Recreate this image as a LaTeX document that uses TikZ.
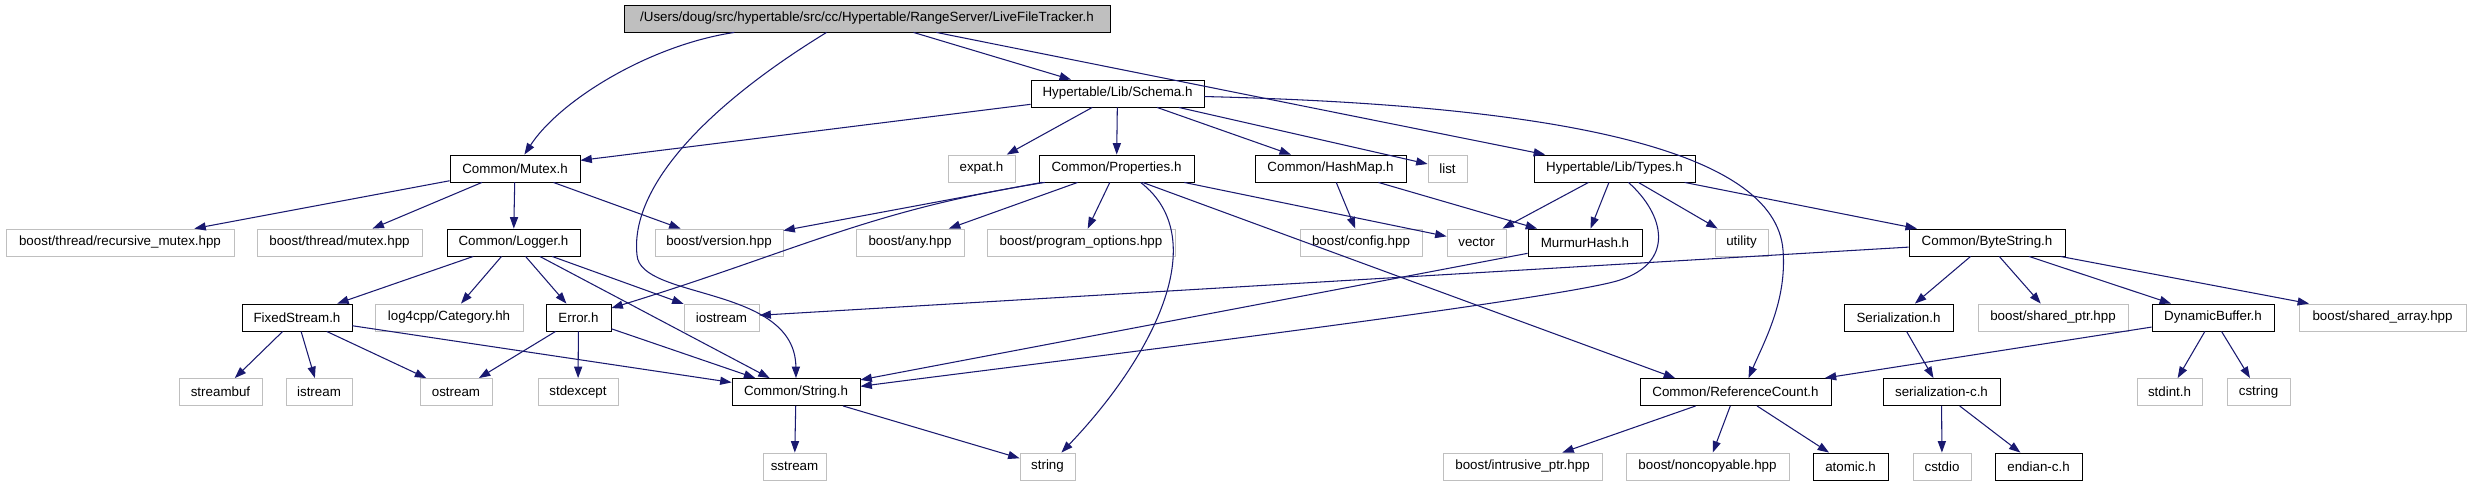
\documentclass[tikz,border=0pt]{standalone}
\usepackage{fontspec}
\setmainfont{Liberation Sans}
\usepackage{tikz}
\usetikzlibrary{arrows.meta}
\definecolor{depblue}{RGB}{25,25,112}
\definecolor{extgray}{RGB}{191,191,191}

\begin{document}
\begin{tikzpicture}[x=0.02cm, y=-0.02cm,
  every node/.style={font=\fontsize{7.6}{9}\selectfont, minimum height=0.54cm, inner sep=1pt, line width=0.5pt},
  doc/.style={draw=black},
  ext/.style={draw=extgray},
  dep/.style={draw=depblue, line width=0.6pt, -{Triangle[length=6.5pt,width=4.6pt]}}]
\fill[white] (0,0) rectangle (2467,485);
\useasboundingbox (0,0) rectangle (2467,485);
% ---- row 0 and 1
\node[doc, fill=extgray, minimum width=9.72cm] (root) at (867,18.5) {/Users/doug/src/hypertable/src/cc/Hypertable/RangeServer/LiveFileTracker.h};
\node[doc, minimum width=3.46cm] (schema) at (1117.5,93.5) {Hypertable/Lib/Schema.h};
% ---- row 2
\node[doc, minimum width=2.60cm] (mutex) at (515,168.5) {Common/Mutex.h};
\node[ext, minimum width=1.34cm] (expat) at (981.5,168.5) {expat.h};
\node[doc, minimum width=3.10cm] (props) at (1116.5,168.5) {Common/Properties.h};
\node[doc, minimum width=3.02cm] (hashmap) at (1330.5,168.5) {Common/HashMap.h};
\node[ext, minimum width=0.78cm] (list) at (1447.5,168.5) {list};
\node[doc, minimum width=3.22cm] (types) at (1614.5,168.5) {Hypertable/Lib/Types.h};
% ---- row 3
\node[ext, minimum width=4.56cm] (recmutex) at (120,242.5) {boost/thread/recursive\_mutex.hpp};
\node[ext, minimum width=3.30cm] (thrmutex) at (339.5,242.5) {boost/thread/mutex.hpp};
\node[doc, minimum width=2.66cm] (logger) at (513.5,242.5) {Common/Logger.h};
\node[ext, minimum width=2.56cm] (version) at (719,242.5) {boost/version.hpp};
\node[ext, minimum width=2.16cm] (any) at (910,242.5) {boost/any.hpp};
\node[ext, minimum width=3.76cm] (progopt) at (1081,242.5) {boost/program\_options.hpp};
\node[ext, minimum width=2.44cm] (config) at (1361,242.5) {boost/config.hpp};
\node[ext, minimum width=1.18cm] (vector) at (1476.5,242.5) {vector};
\node[doc, minimum width=2.28cm] (murmur) at (1585,242.5) {MurmurHash.h};
\node[ext, minimum width=1.06cm] (utility) at (1741.5,242.5) {utility};
\node[doc, minimum width=3.12cm] (bytestr) at (1987,242.5) {Common/ByteString.h};
% ---- row 4
\node[doc, minimum width=2.20cm] (fixed) at (297,317.5) {FixedStream.h};
\node[ext, minimum width=2.96cm] (category) at (449,317.5) {log4cpp/Category.hh};
\node[doc, minimum width=1.30cm] (error) at (578.5,317.5) {Error.h};
\node[ext, minimum width=1.50cm] (iostream) at (721.5,317.5) {iostream};
\node[doc, minimum width=2.18cm] (serial) at (1898.5,317.5) {Serialization.h};
\node[ext, minimum width=3.00cm] (sharedptr) at (2053,317.5) {boost/shared\_ptr.hpp};
\node[doc, minimum width=2.44cm] (dynbuf) at (2213,317.5) {DynamicBuffer.h};
\node[ext, minimum width=3.34cm] (sharedarr) at (2382.5,317.5) {boost/shared\_array.hpp};
% ---- row 5
\node[ext, minimum width=1.66cm] (streambuf) at (220.5,392) {streambuf};
\node[ext, minimum width=1.32cm] (istream) at (319,392) {istream};
\node[ext, minimum width=1.44cm] (ostream) at (456,392) {ostream};
\node[ext, minimum width=1.60cm] (stdexcept) at (578,392) {stdexcept};
\node[doc, minimum width=2.56cm] (strh) at (796,392) {Common/String.h};
\node[doc, minimum width=3.82cm] (refcount) at (1735.5,392) {Common/ReferenceCount.h};
\node[doc, minimum width=2.34cm] (serialc) at (1941.5,392) {serialization-c.h};
\node[ext, minimum width=1.30cm] (stdint) at (2169.5,392) {stdint.h};
\node[ext, minimum width=1.26cm] (cstring) at (2258.5,392) {cstring};
% ---- row 6
\node[ext, minimum width=1.26cm] (sstream) at (794.5,466.5) {sstream};
\node[ext, minimum width=1.10cm] (stdstring) at (1047.5,466.5) {string};
\node[ext, minimum width=3.18cm] (intrusive) at (1522.5,466.5) {boost/intrusive\_ptr.hpp};
\node[ext, minimum width=3.26cm] (noncopy) at (1707.5,466.5) {boost/noncopyable.hpp};
\node[doc, minimum width=1.50cm] (atomic) at (1850.5,466.5) {atomic.h};
\node[ext, minimum width=1.16cm] (cstdio) at (1942,466.5) {cstdio};
\node[doc, minimum width=1.74cm] (endian) at (2038.5,466.5) {endian-c.h};
% ---- straight includes
\foreach \a/\b in {root/schema, root/types, schema/mutex, schema/expat, schema/props,
  schema/hashmap, schema/list, mutex/recmutex, mutex/thrmutex, mutex/logger, mutex/version,
  props/version, props/any, props/progopt, props/vector, hashmap/config, hashmap/murmur,
  types/vector, types/murmur, types/utility, types/bytestr, logger/fixed, logger/category,
  logger/error, logger/iostream, logger/strh, murmur/strh, bytestr/iostream, bytestr/serial,
  bytestr/sharedptr, bytestr/dynbuf, bytestr/sharedarr, fixed/streambuf, fixed/istream,
  fixed/ostream, fixed/strh, error/ostream, error/stdexcept, error/strh, strh/sstream,
  strh/stdstring, serial/serialc, dynbuf/refcount, dynbuf/stdint, dynbuf/cstring,
  refcount/intrusive, refcount/noncopy, refcount/atomic, serialc/cstdio, serialc/endian}
  \draw[dep] (\a) -- (\b);
\draw[dep] (props.-28) -- (refcount.167);
% ---- curved includes
\draw[dep] (root.186) .. controls (650,45) and (560,100) .. (mutex.56);
\draw[dep] (root.199) .. controls (700,110) and (630,190) .. (637,255)
  .. controls (640,300) and (795,285) .. (strh.north);
\draw[dep] (schema.-2) .. controls (1560,105) and (1775,150) .. (1783,250)
  .. controls (1787,300) and (1765,340) .. (refcount.47);
\draw[dep] (props.191) .. controls (870,210) and (800,250) .. (error.16);
\draw[dep] (props.-30) .. controls (1215,240) and (1150,360) .. (stdstring.45);
\draw[dep] (types.-45) .. controls (1665,215) and (1675,262) .. (1620,280)
  .. controls (1560,300) and (1000,368) .. (strh.5);
\end{tikzpicture}
\end{document}
